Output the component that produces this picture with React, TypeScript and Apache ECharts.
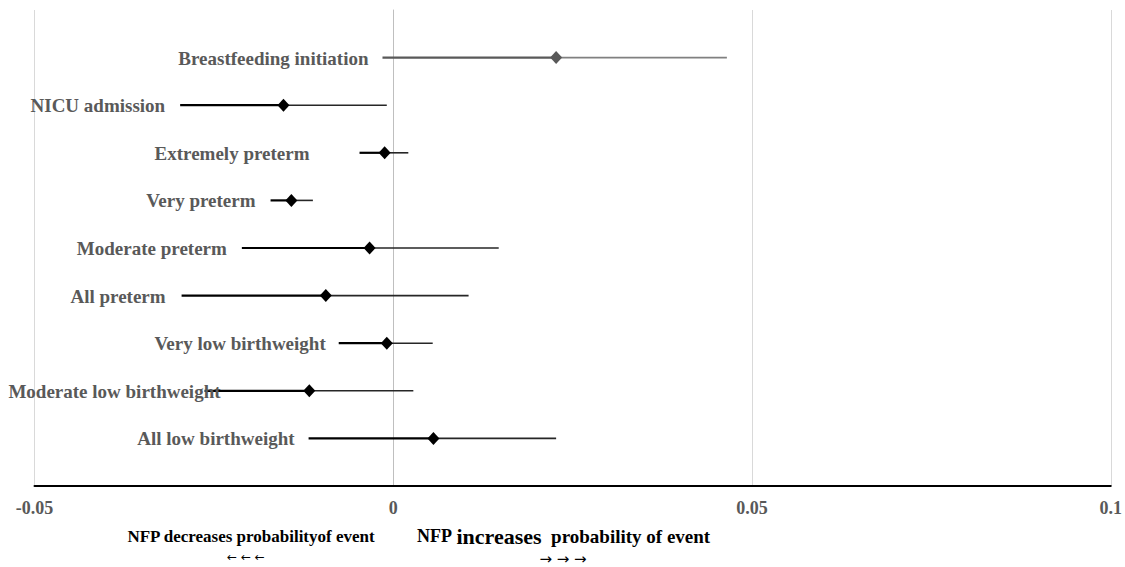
import React, { useEffect, useRef } from "react";
import * as echarts from "echarts";

// Outcomes (bottom to top)
const categories = [
  "All low birthweight",
  "Moderate low birthweight",
  "Very low birthweight",
  "All preterm",
  "Moderate preterm",
  "Very preterm",
  "Extremely preterm",
  "NICU admission",
  "Breastfeeding initiation",
];
const rowPositions = [1, 2, 3, 4, 5, 6, 7, 8, 9];
const estimates = [0.0056, -0.0117, -0.0009, -0.0094, -0.0033, -0.0142, -0.0012, -0.0153, 0.0227];
const lowerCI = [-0.0118, -0.0263, -0.0076, -0.0295, -0.0211, -0.0171, -0.0047, -0.0297, -0.0015];
const upperCI = [0.0227, 0.0028, 0.0055, 0.0105, 0.0147, -0.0112, 0.0021, -0.0009, 0.0465];
const xTicks = [-0.05, 0, 0.05, 0.1];

// styling
const labelGap = [14, -16, 13, 16, 15, 15, 50, 15, 14];
const greyRows = [false, false, false, false, false, false, false, false, true];
const FONT = "'Liberation Serif', 'Times New Roman', serif";
const ARROW_FONT = "'DejaVu Sans', sans-serif";

export default function App() {
  const ref = useRef<HTMLDivElement>(null);
  useEffect(() => {
    if (!ref.current) return;
    const chart = echarts.init(ref.current, undefined, { renderer: "svg" });
    const ciData = categories.map((c, i) => [lowerCI[i], estimates[i], upperCI[i], rowPositions[i]]);
    const pointData = categories.map((c, i) => ({
      value: [estimates[i], rowPositions[i]],
      itemStyle: { color: greyRows[i] ? "#595959" : "#000000", opacity: 1 },
    }));
    chart.setOption({
      animation: false,
      grid: { left: 34.5, right: 13, top: 10, bottom: 81, containLabel: false },
      xAxis: {
        type: "value",
        min: xTicks[0],
        max: xTicks[xTicks.length - 1],
        interval: 0.05,
        axisLine: { show: true, onZero: false, lineStyle: { color: "#000", width: 2 } },
        axisTick: { show: false },
        splitLine: { show: true, lineStyle: { color: "#d9d9d9", width: 1 } },
        axisLabel: {
          margin: 13,
          color: "#595959",
          fontFamily: FONT,
          fontWeight: "bold",
          fontSize: 18,
          formatter: (v: number) => String(Math.round(v * 1000) / 1000),
          showMinLabel: true,
          showMaxLabel: true,
        },
      },
      yAxis: {
        type: "value",
        min: 0,
        max: 10,
        axisLine: { show: true, onZero: true, lineStyle: { color: "#bfbfbf", width: 1 } },
        axisTick: { show: false },
        axisLabel: { show: false },
        splitLine: { show: false },
      },
      series: [
        {
          type: "custom",
          data: ciData,
          encode: { x: [0, 1, 2], y: 3 },
          renderItem: (params: any, api: any) => {
            const i = params.dataIndex;
            const row = api.value(3);
            const pL = api.coord([api.value(0), row]);
            const pM = api.coord([api.value(1), row]);
            const pU = api.coord([api.value(2), row]);
            const grey = greyRows[i];
            return {
              type: "group",
              children: [
                {
                  type: "line",
                  shape: { x1: pL[0], y1: pL[1], x2: pM[0], y2: pM[1] },
                  style: { stroke: grey ? "#595959" : "#000000", lineWidth: 2.2 },
                },
                {
                  type: "line",
                  shape: { x1: pM[0], y1: pM[1], x2: pU[0], y2: pU[1] },
                  style: { stroke: grey ? "#808080" : "#262626", lineWidth: 1.6 },
                },
                {
                  type: "text",
                  x: pL[0] - labelGap[i],
                  y: pL[1] + 0.5,
                  style: {
                    text: categories[i],
                    fill: "#595959",
                    fontFamily: FONT,
                    fontWeight: "bold",
                    fontSize: 19,
                    align: "right",
                    verticalAlign: "middle",
                  },
                },
              ],
            };
          },
          z: 2,
        },
        {
          type: "scatter",
          data: pointData,
          symbol: "diamond",
          symbolSize: [12, 13],
          z: 3,
        },
      ],
      graphic: [
        {
          type: "text",
          x: 251,
          y: 536,
          style: {
            text: "NFP decreases probabilityof event",
            fill: "#000",
            fontFamily: FONT,
            fontWeight: "bold",
            fontSize: 17,
            align: "center",
            verticalAlign: "middle",
          },
        },
        {
          type: "text",
          x: 246,
          y: 557,
          style: {
            text: "\u2190 \u2190 \u2190",
            fill: "#000",
            fontFamily: ARROW_FONT,
            fontSize: 12,
            align: "center",
            verticalAlign: "middle",
          },
        },
        {
          type: "text",
          x: 417,
          y: 536,
          style: {
            text: "{a|NFP }{b|increases}{c|  probability of event}",
            rich: {
              a: { fill: "#000", fontFamily: FONT, fontWeight: "bold", fontSize: 18 },
              b: { fill: "#000", fontFamily: FONT, fontWeight: "bold", fontSize: 22 },
              c: { fill: "#000", fontFamily: FONT, fontWeight: "bold", fontSize: 19 },
            },
            align: "left",
            verticalAlign: "middle",
          },
        },
        {
          type: "text",
          x: 563,
          y: 559,
          style: {
            text: "\u2192 \u2192 \u2192",
            fill: "#000",
            fontFamily: ARROW_FONT,
            fontSize: 15,
            align: "center",
            verticalAlign: "middle",
          },
        },
      ],
    });
    return () => chart.dispose();
  }, []);
  return (
    <div
      ref={ref}
      style={{ position: "fixed", left: 0, top: 0, width: 1125, height: 567, background: "#fff" }}
    />
  );
}
